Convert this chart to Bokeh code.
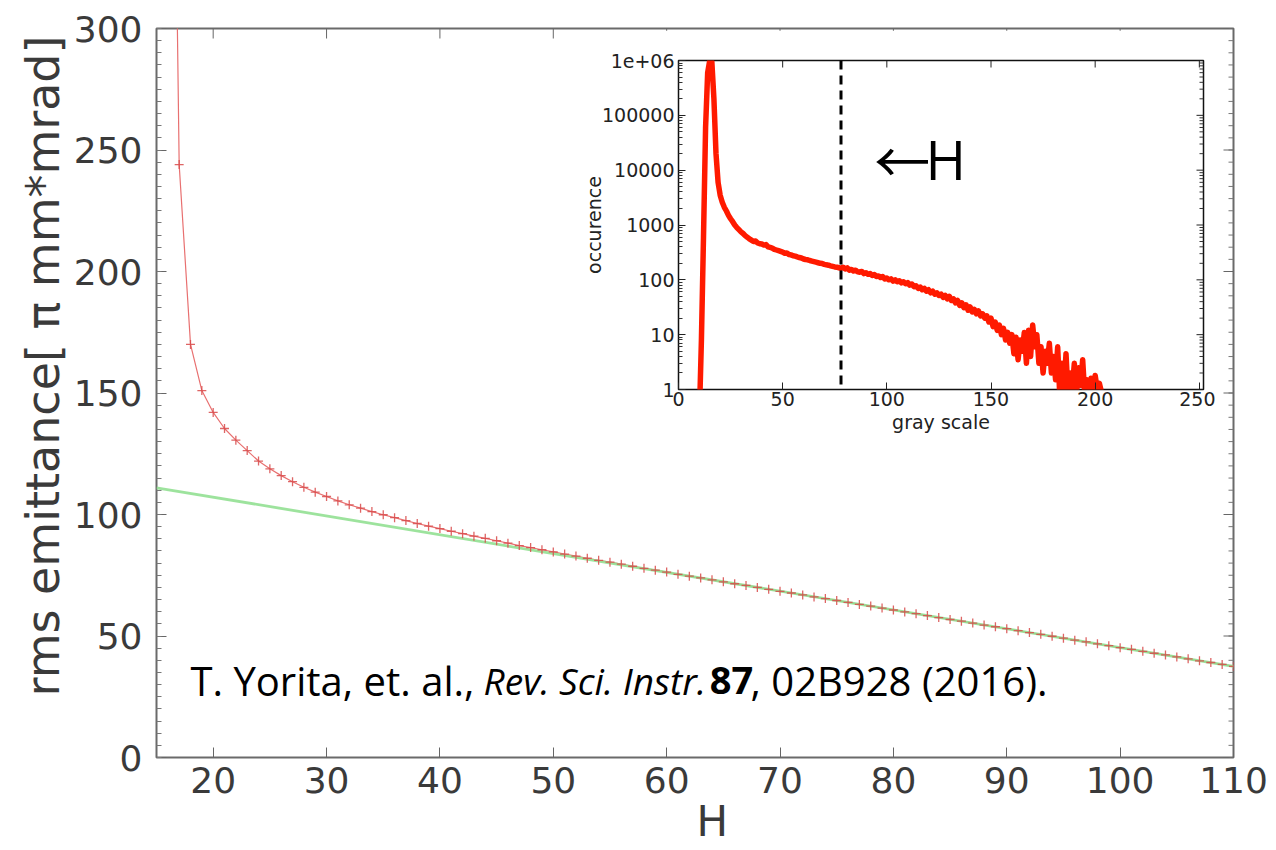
import numpy as np
from bokeh.plotting import figure
from bokeh.models import (Range1d, FixedTicker, Label, Span, GridBox, Title,
                          CustomJSTickFormatter, ColumnDataSource)
from bokeh.embed import file_html
from bokeh.resources import INLINE

# ---------------- data: main chart ----------------
H = list(range(16, 111))
emittance = [600, 244, 170, 151, 142, 135.4, 130.6, 126.3, 122, 118.8,
             116, 113.5, 111.2, 109.2, 107.4, 105.6, 104, 102.6, 101.2, 99.9,
             98.7, 97.5, 96.3, 95.2, 94.2, 93.1, 92.1, 91.1, 90.2, 89.2,
             88.2, 87.2, 86.4, 85.5, 84.6, 83.7, 82.9, 82.0, 81.15, 80.4,
             79.55, 78.7, 77.85, 77.1, 76.3,
             75.4, 74.6, 73.9, 73.1, 72.3, 71.5, 70.8, 70.0, 69.2, 68.4,
             67.7, 66.9, 66.1, 65.4, 64.6, 63.8, 63.0, 62.3, 61.5, 60.7,
             59.9, 59.2, 58.4, 57.6, 56.8, 56.1, 55.3, 54.5, 53.8, 53.0,
             52.2, 51.4, 50.7, 49.9, 49.1, 48.3, 47.6, 46.8, 46.0, 45.2,
             44.5, 43.7, 42.9, 42.2, 41.4, 40.6, 39.8, 39.1, 38.3, 37.5]
fit_H = [15, 110]
fit_emittance = [111.0, 37.5]
x_ticks = [20, 30, 40, 50, 60, 70, 80, 90, 100, 110]
y_ticks = [0, 50, 100, 150, 200, 250, 300]
y_minor = list(range(0, 301, 5))

# ---------------- data: inset histogram ----------------
gray = list(range(10, 204))
occurence = [0.3, 8, 600, 60000, 600000, 1000000, 950000, 200000, 20000, 6000,
             3500, 2600, 2100, 1800, 1500, 1300, 1150, 1000, 900, 820,
             750, 700, 640, 600, 560, 530, 500, 510, 470, 455,
             450, 430, 440, 400, 390, 380, 360, 350, 340, 330,
             320, 305, 310, 290, 285, 275, 270, 262, 255, 250,
             240, 235, 232, 225, 220, 215, 210, 205, 200, 198,
             192, 188, 185, 180, 176, 172, 170, 166, 162, 170,
             158, 165, 150, 155, 145, 150, 140, 138, 142, 130,
             135, 126, 130, 120, 125, 115, 118, 110, 115, 104,
             108, 100, 104, 95, 100, 92, 96, 88, 92, 85,
             89, 80, 84, 75, 78, 70, 74, 66, 70, 62,
             66, 58, 62, 55, 58, 52, 55, 48, 52, 45,
             50, 42, 45, 38, 42, 34, 38, 31, 35, 28,
             32, 26, 29, 24, 27, 22, 24, 20, 22, 17,
             20, 14, 17, 12, 15, 10, 13, 8, 11, 7,
             10, 4.5, 9, 3.5, 8, 5, 11, 3, 12, 4,
             15, 6, 10, 3, 6, 2, 5, 3, 7, 2,
             4, 1.5, 6, 0.8, 3, 1, 4.5, 0.8, 2, 1,
             3, 0.8, 2.5, 1.2, 3.5, 0.8, 1.5, 0.8, 1.6, 1,
             1.8, 1, 1.3, 0.9]
threshold_gray = 78
gray_ticks = [0, 50, 100, 150, 200, 250]
occ_ticks = [1, 10, 100, 1000, 10000, 100000, 1000000]
occ_minor = [k * 10 ** d for d in range(0, 6) for k in range(2, 10)]

TICK_FONT = "DejaVu Sans"
TXT = "#3a3a3a"

# ---------------- main figure ----------------
p = figure(width=1260, height=842, x_range=Range1d(15, 110), y_range=Range1d(0, 300),
           output_backend="svg", toolbar_location=None,
           min_border_left=148, min_border_right=35, min_border_top=20, min_border_bottom=93)
p.grid.visible = False
p.outline_line_color = "#6a6a6a"
p.outline_line_width = 2
p.background_fill_color = "white"
p.border_fill_color = "white"

xa = p.xaxis[0]
xa.ticker = FixedTicker(ticks=x_ticks)
ya = p.yaxis[0]
ya.ticker = FixedTicker(ticks=y_ticks, minor_ticks=y_minor)
for ax in (xa, ya):
    ax.axis_line_color = None
    ax.major_tick_in = 10
    ax.major_tick_out = 0
    ax.minor_tick_in = 5
    ax.minor_tick_out = 0
    ax.major_tick_line_color = "#666666"
    ax.minor_tick_line_color = "#777777"
    ax.major_label_text_font = TICK_FONT
    ax.major_label_text_font_size = "36px"
    ax.major_label_text_color = TXT
xa.major_label_standoff = 9
ya.major_label_standoff = 14

# axis titles, placed along the axis like the reference
p.add_layout(Title(text="rms emittance[ \u03c0 mm*mrad]", align="right", offset=7,
                   standoff=2, text_font=TICK_FONT, text_font_size="46px",
                   text_font_style="normal", text_color=TXT), "left")
p.add_layout(Title(text="H", align="left", offset=540, standoff=3, vertical_align="top",
                   text_font=TICK_FONT, text_font_size="42px",
                   text_font_style="normal", text_color=TXT), "below")

# ticks of the top and right frame edges (inward)
xr, yr = p.x_range, p.y_range
p.ray(x=x_ticks, y=[yr.end] * len(x_ticks), length=10, length_units="screen",
      angle=-np.pi / 2, line_color="#666666", line_width=1)
p.ray(x=[xr.end] * len(y_minor), y=y_minor, length=5, length_units="screen",
      angle=np.pi, line_color="#777777", line_width=1)
p.ray(x=[xr.end] * len(y_ticks), y=y_ticks, length=10, length_units="screen",
      angle=np.pi, line_color="#666666", line_width=1)

src = ColumnDataSource(dict(H=H, e=emittance))
p.line("H", "e", source=src, line_color="#e87070", line_width=1.2)
p.line(fit_H, fit_emittance, line_color="#92e092", line_width=2.8, line_alpha=0.9)
p.scatter("H", "e", source=src, marker="cross", size=9, line_color="#d84a4a",
          line_width=1.3, line_alpha=0.85)

cite = [("T. Yorita, et. al., ", 18.0, "normal", "40px"),
        ("Rev. Sci. Instr.", 43.85, "italic", "37px"),
        ("87", 63.8, "bold", "38px"),
        (", 02B928 (2016).", 67.4, "normal", "40px")]
for txt, xpos, style, size in cite:
    p.add_layout(Label(x=xpos, y=31.5, text=txt, text_font="Open Sans",
                       text_font_size=size, text_font_style=style,
                       text_color="black", text_baseline="alphabetic"))

# ---------------- inset figure ----------------
q = figure(width=655, height=405, x_range=Range1d(0, 252), y_range=Range1d(1, 1e6),
           y_axis_type="log", output_backend="svg", toolbar_location=None,
           min_border_left=118, min_border_right=12, min_border_top=30, min_border_bottom=42)
q.grid.visible = False
q.outline_line_color = "#111111"
q.outline_line_width = 1.5
q.background_fill_color = "white"
q.border_fill_color = "white"

qx = q.xaxis[0]
qx.ticker = FixedTicker(ticks=gray_ticks)
qx.axis_label = "gray scale"
qy = q.yaxis[0]
qy.ticker = FixedTicker(ticks=occ_ticks, minor_ticks=occ_minor)
qy.formatter = CustomJSTickFormatter(code="return tick >= 1e6 ? '1e+06' : String(Math.round(tick));")
qy.axis_label = "occurence"
for ax in (qx, qy):
    ax.axis_line_color = None
    ax.major_tick_in = 7
    ax.major_tick_out = 0
    ax.minor_tick_in = 4
    ax.minor_tick_out = 0
    ax.major_tick_line_color = "#222222"
    ax.minor_tick_line_color = "#333333"
    ax.major_label_text_font = TICK_FONT
    ax.major_label_text_font_size = "19px"
    ax.major_label_text_color = "#222222"
    ax.axis_label_text_font = TICK_FONT
    ax.axis_label_text_font_size = "19px"
    ax.axis_label_text_font_style = "normal"
    ax.axis_label_text_color = "#222222"
qx.major_label_standoff = 2
qx.axis_label_standoff = 2
qy.major_label_standoff = 4
qy.axis_label_standoff = -6

qxr, qyr = q.x_range, q.y_range
q.ray(x=gray_ticks, y=[qyr.end] * len(gray_ticks), length=7, length_units="screen",
      angle=-np.pi / 2, line_color="#222222", line_width=1)
q.ray(x=[qxr.end] * len(occ_minor), y=occ_minor, length=4, length_units="screen",
      angle=np.pi, line_color="#333333", line_width=1)
q.ray(x=[qxr.end] * len(occ_ticks), y=occ_ticks, length=7, length_units="screen",
      angle=np.pi, line_color="#222222", line_width=1)

q.line(gray, occurence, line_color="#ff1a00", line_width=5.5, line_join="round")
q.add_layout(Span(location=threshold_gray, dimension="height", line_color="black",
                  line_width=3, line_dash="9 6"))
q.add_layout(Label(x=94, y=16400, text="\u2190", text_font="Noto Sans CJK JP",
                   text_font_size="56px", text_color="black", text_baseline="alphabetic"))
q.add_layout(Label(x=118.5, y=16400, text="H", text_font="Open Sans",
                   text_font_size="55px", text_color="black", text_baseline="alphabetic"))

layout = GridBox(children=[(p, 0, 0, 3, 3), (q, 1, 1)],
                 rows=["22px", "405px", "415px"], cols=["552px", "655px", "53px"],
                 styles={"position": "absolute", "left": "8px", "top": "8px"})

with open("out.html", "w") as f:
    f.write(file_html(layout, INLINE))
